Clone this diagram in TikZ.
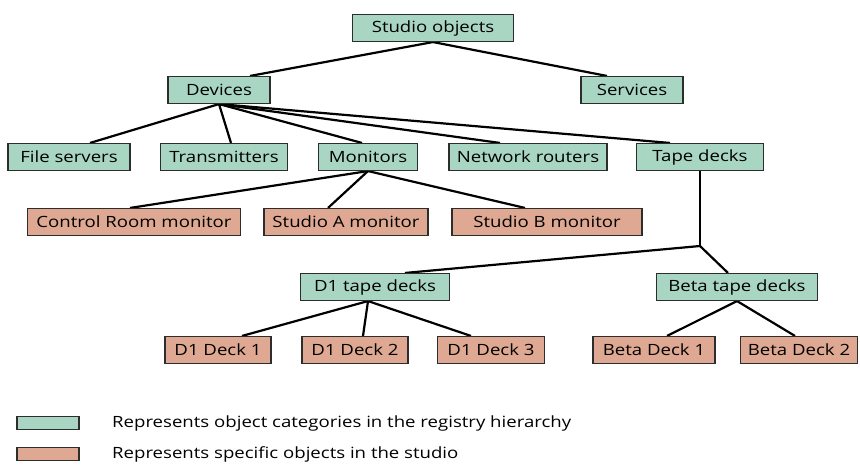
\documentclass[tikz,border=0pt]{standalone}
\usepackage{fontspec}
\setmainfont[FakeStretch=1.2]{Open Sans}
\usetikzlibrary{positioning,backgrounds}
\definecolor{verde}{RGB}{168,214,195}
\definecolor{rosa}{RGB}{222,168,147}
\definecolor{borde}{RGB}{45,45,45}

\begin{document}
\begin{tikzpicture}[x=1pt,y=-1pt,
cat/.style={draw=borde,line width=1.1pt,fill=verde,minimum height=27pt,inner sep=0pt,font=\fontsize{15.5}{17}\selectfont},
obj/.style={cat,fill=rosa},
lnk/.style={line width=2.2pt,black}
]
\useasboundingbox (0,0) rectangle (860,464);
% categories
\node[cat,minimum width=161pt] (root) at (433,28) {Studio objects};
\node[cat,minimum width=102pt] (dev) at (219,90) {Devices};
\node[cat,minimum width=102pt] (srv) at (632,90) {Services};
\node[cat,minimum width=122pt] (fs) at (69,157) {File servers};
\node[cat,minimum width=127pt] (tx) at (224,157) {Transmitters};
\node[cat,minimum width=99pt] (mon) at (368,157) {Monitors};
\node[cat,minimum width=158pt] (net) at (528,157) {Network routers};
\node[cat,minimum width=127pt] (tape) at (700,157) {Tape decks};
\node[cat,minimum width=149pt] (d1) at (375,287) {D1 tape decks};
\node[cat,minimum width=161pt] (beta) at (737,287) {Beta tape decks};
% objects
\node[obj,minimum width=213pt] (crm) at (134,222) {Control Room monitor};
\node[obj,minimum width=164pt] (sam) at (346,222) {Studio A monitor};
\node[obj,minimum width=190pt] (sbm) at (547,222) {Studio B monitor};
\node[obj,minimum width=106pt] (dk1) at (218,350) {D1 Deck 1};
\node[obj,minimum width=106pt] (dk2) at (355,350) {D1 Deck 2};
\node[obj,minimum width=107pt] (dk3) at (491,350) {D1 Deck 3};
\node[obj,minimum width=122pt] (bk1) at (654,350) {Beta Deck 1};
\node[obj,minimum width=117pt] (bk2) at (799,350) {Beta Deck 2};
\coordinate (j) at (700,246);
% links, behind the boxes
\begin{scope}[on background layer]
\draw[lnk] (root.south) -- ([xshift=31pt]dev.north);
\draw[lnk] (root.south) -- ([xshift=-25pt]srv.north);
\draw[lnk] (dev.south) -- ([xshift=21pt]fs.north);
\draw[lnk] (dev.south) -- ([xshift=7pt]tx.north);
\draw[lnk] (dev.south) -- ([xshift=-6pt]mon.north);
\draw[lnk] (dev.south) -- ([xshift=-28pt]net.north);
\draw[lnk] (dev.south) -- ([xshift=-30pt]tape.north);
\draw[lnk] (mon.south) -- ([xshift=-4pt]crm.north);
\draw[lnk] (mon.south) -- ([xshift=-18pt]sam.north);
\draw[lnk] (mon.south) -- ([xshift=-22pt]sbm.north);
\draw[lnk] (tape.south) -- (j);
\draw[lnk] (j) -- ([xshift=30pt]d1.north);
\draw[lnk] (j) -- ([xshift=-9pt]beta.north);
\draw[lnk] ([xshift=-7pt]d1.south) -- ([xshift=24pt]dk1.north);
\draw[lnk] ([xshift=-7pt]d1.south) -- ([xshift=8pt]dk2.north);
\draw[lnk] ([xshift=-7pt]d1.south) -- ([xshift=-20pt]dk3.north);
\draw[lnk] (beta.south) -- ([xshift=13pt]bk1.north);
\draw[lnk] (beta.south) -- ([xshift=-4pt]bk2.north);
\end{scope}
% legend
\node[cat,minimum width=62pt,minimum height=13pt] (kc) at (48,423) {};
\node[obj,minimum width=62pt,minimum height=13pt] (ko) at (48,454) {};
\node[anchor=west,inner sep=0pt,font=\fontsize{15.5}{17}\selectfont] (tc) at (112,423) {Represents object categories in the registry hierarchy};
\node[anchor=west,inner sep=0pt,font=\fontsize{15.5}{17}\selectfont] (to) at (112,454) {Represents specific objects in the studio};
\end{tikzpicture}
\end{document}
